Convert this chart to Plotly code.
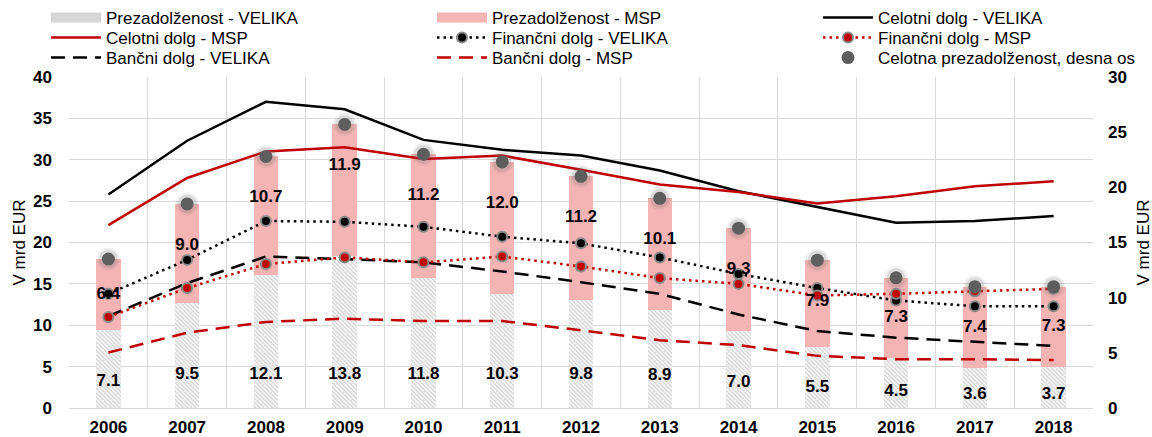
import plotly.graph_objects as go

years = [str(y) for y in range(2006, 2019)]

# Prezadolženost (right axis, bn EUR)
prez_velika = [7.1, 9.5, 12.1, 13.8, 11.8, 10.3, 9.8, 8.9, 7.0, 5.5, 4.5, 3.6, 3.7]
prez_msp = [6.4, 9.0, 10.7, 11.9, 11.2, 12.0, 11.2, 10.1, 9.3, 7.9, 7.3, 7.4, 7.3]

# Debt lines (left axis, bn EUR)
celotni_velika = [25.8, 32.3, 37.0, 36.1, 32.4, 31.2, 30.5, 28.7, 26.2, 24.3, 22.4, 22.6, 23.2]
celotni_msp = [22.1, 27.8, 31.0, 31.5, 30.1, 30.5, 28.8, 27.0, 26.1, 24.7, 25.6, 26.8, 27.4]
financni_velika = [13.8, 17.9, 22.6, 22.5, 21.9, 20.7, 19.9, 18.2, 16.2, 14.5, 13.0, 12.3, 12.3]
financni_msp = [11.0, 14.5, 17.4, 18.2, 17.6, 18.3, 17.1, 15.7, 15.0, 13.6, 13.8, 14.1, 14.4]
bancni_velika = [11.1, 15.1, 18.3, 18.0, 17.6, 16.5, 15.2, 13.8, 11.3, 9.3, 8.5, 8.0, 7.5]
bancni_msp = [6.7, 9.1, 10.4, 10.8, 10.5, 10.5, 9.4, 8.2, 7.6, 6.3, 5.9, 5.9, 5.8]

prez_total = [round(a + b, 1) for a, b in zip(prez_velika, prez_msp)]

RED = "#C00000"
PINK = "#F4B4B4"
GREY_DOT = "#5E5E5E"
FONT = "Liberation Sans, Arial, sans-serif"
LBL_FONT = dict(family=FONT, size=17, color="#000000", weight="bold")
DASH = "14px,8px"
DOT = "2.5px,4px"

fig = go.Figure()

# Stacked bars on right axis (primary y, drawn underneath)
fig.add_trace(go.Bar(
    x=years, y=prez_velika, name="Prezadolženost - VELIKA", yaxis="y",
    width=0.31, showlegend=False, legendgroup="pv",
    marker=dict(color="white", line=dict(width=0),
                pattern=dict(shape="\\", fgcolor="#a0a0a0", bgcolor="#f6f6f6",
                             size=3, solidity=0.33)),
    hoverinfo="skip",
))
fig.add_trace(go.Bar(
    x=years, y=prez_msp, name="Prezadolženost - MSP", yaxis="y",
    width=0.31, showlegend=False, legendgroup="pm",
    marker=dict(color=PINK, line=dict(width=0)),
    hoverinfo="skip",
))
# legend swatches for the bars (wide rectangles as in the reference)
fig.add_trace(go.Scatter(
    x=[years[0]], y=[None], yaxis="y", mode="lines", name="Prezadolženost - VELIKA",
    legendgroup="pv", legend="legend", line=dict(color="#d6d6d6", width=12),
))
fig.add_trace(go.Scatter(
    x=[years[0]], y=[None], yaxis="y", mode="lines", name="Prezadolženost - MSP",
    legendgroup="pm", legend="legend2", line=dict(color=PINK, width=12),
))

# Lines on left axis (y2 overlay)
fig.add_trace(go.Scatter(
    x=years, y=celotni_velika, name="Celotni dolg - VELIKA", yaxis="y2", legend="legend3",
    mode="lines", line=dict(color="black", width=2.5),
))
fig.add_trace(go.Scatter(
    x=years, y=celotni_msp, name="Celotni dolg - MSP", yaxis="y2", legend="legend4",
    mode="lines", line=dict(color=RED, width=2.5),
))
fig.add_trace(go.Scatter(
    x=years, y=bancni_velika, name="Bančni dolg - VELIKA", yaxis="y2", legend="legend7",
    mode="lines", line=dict(color="black", width=2.5, dash=DASH),
))
fig.add_trace(go.Scatter(
    x=years, y=bancni_msp, name="Bančni dolg - MSP", yaxis="y2", legend="legend8",
    mode="lines", line=dict(color=RED, width=2.5, dash=DASH),
))
fig.add_trace(go.Scatter(
    x=years, y=financni_velika, name="Finančni dolg - VELIKA", yaxis="y2", legend="legend5",
    mode="lines+markers", line=dict(color="black", width=2.5, dash=DOT),
    marker=dict(color="black", size=10, line=dict(color="#8a8a8a", width=2)),
))
fig.add_trace(go.Scatter(
    x=years, y=financni_msp, name="Finančni dolg - MSP", yaxis="y2", legend="legend6",
    mode="lines+markers", line=dict(color=RED, width=2.5, dash=DOT),
    marker=dict(color=RED, size=10, line=dict(color="#8a8a8a", width=2)),
))

# Total over-indebtedness dots (right axis scale, drawn on top via y3)
for sz, op in [(23, 0.10), (19, 0.16)]:
    fig.add_trace(go.Scatter(
        x=years, y=prez_total, yaxis="y3", mode="markers", showlegend=False,
        marker=dict(color=f"rgba(110,110,110,{op})", size=sz, line=dict(width=0)),
        hoverinfo="skip",
    ))
fig.add_trace(go.Scatter(
    x=years, y=prez_total, name="Celotna prezadolženost, desna os", yaxis="y3",
    legend="legend9",
    mode="markers", marker=dict(color=GREY_DOT, size=13, line=dict(width=0)),
))

# Data labels
fig.add_trace(go.Scatter(
    x=years, y=[min(v * 0.33, 3.0) for v in prez_velika], yaxis="y3",
    mode="text", text=[f"{v:.1f}" for v in prez_velika], textfont=LBL_FONT,
    showlegend=False, hoverinfo="skip",
))
fig.add_trace(go.Scatter(
    x=years,
    y=[max(t - 3.75, a + b / 2) for t, a, b in zip(prez_total, prez_velika, prez_msp)],
    yaxis="y3",
    mode="text", text=[f"{v:.1f}" for v in prez_msp], textfont=LBL_FONT,
    showlegend=False, hoverinfo="skip",
))

GRID = "#d9d9d9"
TICKFONT = dict(family=FONT, size=17, color="#000000", weight="bold")
W, H = 1152, 437
ML, MR, MT, MB = 69, 59, 77, 29
PW, PH = W - ML - MR, H - MT - MB

# Legend entries laid out in a 3x3 grid (pixel positions of each entry)
leg_cols_px = [46, 432, 818]
leg_rows_px = [18, 38, 58]
legend_layout = {}
k = 1
for r in leg_rows_px:
    for c in leg_cols_px:
        key = "legend" if k == 1 else f"legend{k}"
        legend_layout[key] = dict(
            xref="container", yref="container", x=c / W, y=1 - r / H,
            xanchor="left", yanchor="middle", orientation="v",
            itemwidth=50, font=dict(family=FONT, size=17, color="black"),
            bgcolor="rgba(0,0,0,0)", borderwidth=0, itemclick=False,
            itemdoubleclick=False,
        )
        k += 1

title_font = dict(family=FONT, size=17, color="black")
annotations = [
    dict(text="V mrd EUR", textangle=-90, xref="paper", yref="paper",
         x=(19 - ML) / PW, y=0.5, showarrow=False, font=title_font,
         xanchor="center", yanchor="middle"),
    dict(text="V mrd EUR", textangle=-90, xref="paper", yref="paper",
         x=(1143 - ML) / PW, y=0.5, showarrow=False, font=title_font,
         xanchor="center", yanchor="middle"),
]

fig.update_layout(
    width=W, height=H,
    margin=dict(l=ML, r=MR, t=MT, b=MB, autoexpand=False),
    paper_bgcolor="white", plot_bgcolor="white",
    barmode="stack",
    font=dict(family=FONT, size=17, color="black"),
    xaxis=dict(type="category", showgrid=True, gridcolor=GRID, gridwidth=1,
               tickson="boundaries", ticks="", tickfont=TICKFONT,
               showline=False, zeroline=False, ticklabelstandoff=7,
               range=[-0.5, 12.5]),
    yaxis=dict(side="right", range=[0, 30], dtick=5, showgrid=False,
               zeroline=False, tickfont=TICKFONT, ticks="",
               ticklabelstandoff=14),
    yaxis2=dict(side="left", overlaying="y", range=[0, 40], dtick=5,
                showgrid=True, gridcolor=GRID, gridwidth=1,
                zeroline=True, zerolinecolor=GRID, zerolinewidth=1,
                tickfont=TICKFONT, ticks="", ticklabelstandoff=16),
    yaxis3=dict(overlaying="y", range=[0, 30], visible=False),
    annotations=annotations,
    showlegend=True,
    **legend_layout,
)

fig.write_html("out.html", config={"displayModeBar": False},
               post_script="document.body.style.margin='0';")
